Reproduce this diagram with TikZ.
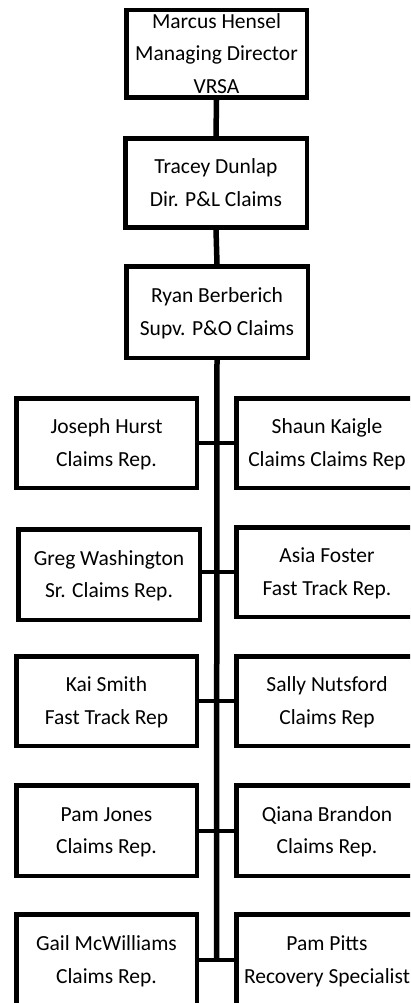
\documentclass[tikz,border=0pt]{standalone}
\usepackage{fontspec}
\setmainfont{Carlito}
\begin{document}
\begin{tikzpicture}[x=1pt,y=-1pt,
  box/.style={draw=black,line width=4.5pt,fill=white,inner sep=0pt,align=center,
    font=\fontsize{21.5}{32.5}\selectfont,text height=46.5pt,text depth=0pt},
  three/.style={text height=79pt},
  trunk/.style={line width=5.5pt},
  link/.style={line width=4pt}]
\useasboundingbox (0,0) rectangle (410,1003);
\clip (0,0) rectangle (410,1003);
% top chain
\node[box,three,minimum width=180.5pt,minimum height=87.5pt] (m) at (216.5,54) {Marcus Hensel\\Managing Director\\VRSA};
\node[box,minimum width=181.5pt,minimum height=88.5pt] (t) at (216,183) {Tracey Dunlap\\Dir. P\&L Claims};
\node[box,minimum width=181.5pt,minimum height=91.5pt] (r) at (217,312) {Ryan Berberich\\Supv. P\&O Claims};
\coordinate (end) at (216.5,960);
\draw[trunk] (m.south) -- (t.north);
\draw[trunk] (t.south) -- (r.north);
\draw[trunk] (r.south) -- (end);
% rows
\node[box,minimum width=180.5pt,minimum height=89.5pt] (l1) at (106.5,443) {Joseph Hurst\\Claims Rep.};
\node[box,minimum width=181.5pt,minimum height=89.5pt] (r1) at (327,443) {Shaun Kaigle\\Claims Claims Rep};
\node[box,minimum width=181.5pt,minimum height=90.5pt] (l2) at (109,574.5) {Greg Washington\\Sr. Claims Rep.};
\node[box,minimum width=181.5pt,minimum height=89.5pt] (r2) at (327,572) {Asia Foster\\Fast Track Rep.};
\node[box,minimum width=180.5pt,minimum height=89.5pt] (l3) at (106.5,701) {Kai Smith\\Fast Track Rep};
\node[box,minimum width=181.5pt,minimum height=89.5pt] (r3) at (327,701) {Sally Nutsford\\Claims Rep};
\node[box,minimum width=180.5pt,minimum height=90.5pt] (l4) at (106.5,830.5) {Pam Jones\\Claims Rep.};
\node[box,minimum width=181.5pt,minimum height=90.5pt] (r4) at (327,830.5) {Qiana Brandon\\Claims Rep.};
\node[box,minimum width=180.5pt,minimum height=91.5pt] (l5) at (106.5,960) {Gail McWilliams\\Claims Rep.};
\node[box,minimum width=181.5pt,minimum height=91.5pt] (r5) at (327,960) {Pam Pitts\\Recovery Specialist};
\draw[link] (l1.east) -- (r1.west);
\draw[link] (l2.east |- r2.west) -- (r2.west);
\draw[link] (l3.east) -- (r3.west);
\draw[link] (l4.east) -- (r4.west);
\draw[link] (l5.east) -- (r5.west);
\end{tikzpicture}
\end{document}
